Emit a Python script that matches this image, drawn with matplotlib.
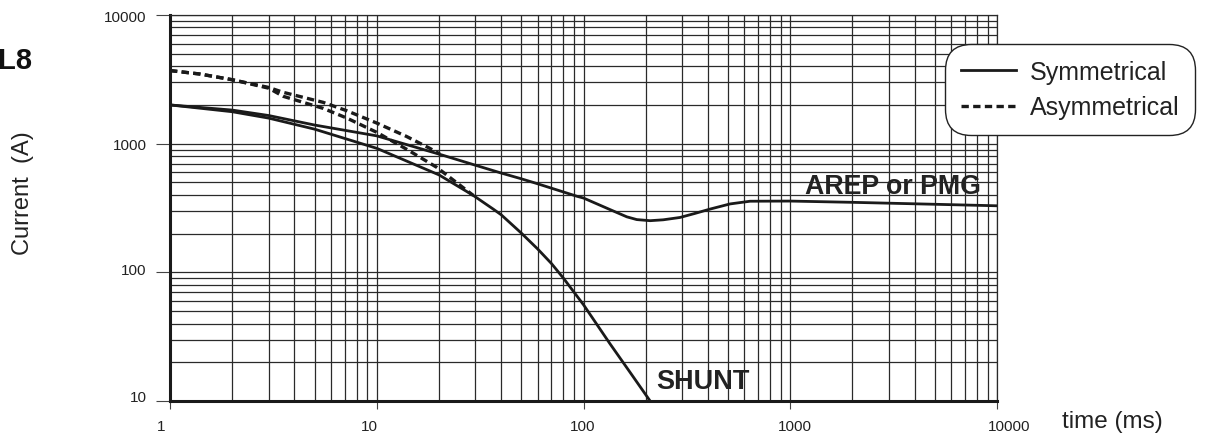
import matplotlib.pyplot as plt
from matplotlib.transforms import ScaledTranslation

plt.rcParams['font.family'] = ['Liberation Sans', 'DejaVu Sans']

# Data (time in ms, current in A)
t_arep = [1, 2, 3, 5, 10, 20, 29.3, 40, 49.3, 59, 93, 100, 134, 162, 181, 210, 243, 293, 346, 409, 511, 639, 1000, 2000, 5000, 10000]
i_arep = [2000, 1824, 1655, 1396, 1150, 830, 688, 591, 537, 492, 390, 378, 308, 270, 257, 252, 256, 267, 287, 310, 340, 357, 358, 350, 338, 329]

t_shunt = [1, 2, 3, 5, 10, 20, 29.3, 36.6, 40, 50, 60, 70, 80, 100, 134, 168, 210]
i_shunt = [2000, 1771, 1580, 1297, 920, 572, 396, 310, 280, 202, 152, 117, 90, 56, 28, 16.7, 10]

t_asym_arep = [1, 1.4, 2, 3, 3.53, 5.51, 7.16, 10, 13.9, 18.1, 20.2]
i_asym_arep = [3700, 3475, 3140, 2735, 2506, 2094, 1803, 1446, 1140, 918, 830]

t_asym_shunt = [1, 1.4, 2, 3, 3.53, 5.51, 7.16, 10, 13.9, 19.5, 29.3]
i_asym_shunt = [3700, 3475, 3140, 2700, 2333, 1880, 1582, 1225, 908, 655, 396]

x_ticks = [1, 10, 100, 1000, 10000]
x_labels = ['1', '10', '100', '1000', '10000']
y_ticks = [10, 100, 1000, 10000]
y_labels = ['10', '100', '1000', '10000']

W, H = 1212, 435
fig = plt.figure(figsize=(W / 100, H / 100), dpi=100)
ax = fig.add_axes([170 / W, 1 - 402 / H, (997 - 170) / W, (402 - 16) / H])

ink = '#1a1a1a'
dash = (0, (2.2, 1.3))
ax.plot(t_arep, i_arep, color=ink, lw=2.0, label='Symmetrical', zorder=3)
ax.plot(t_shunt, i_shunt, color=ink, lw=2.0, zorder=3)
ax.plot(t_asym_arep, i_asym_arep, color=ink, lw=2.4, ls=dash, label='Asymmetrical', zorder=3)
ax.plot(t_asym_shunt, i_asym_shunt, color=ink, lw=2.4, ls=dash, zorder=3)

ax.set_xscale('log')
ax.set_yscale('log')
ax.set_xlim(1, 10000)
ax.set_ylim(10, 10000)

ax.grid(which='both', color='#2a2a2a', lw=0.9)
ax.set_xticks(x_ticks, x_labels)
ax.set_yticks(y_ticks, y_labels)
ax.tick_params(which='minor', length=0)
ax.tick_params(axis='x', which='major', length=5.8, width=0.8, color='#444', pad=7, labelsize=11, labelcolor='#222')
ax.tick_params(axis='y', which='major', length=10, width=0.8, color='#444', pad=7, labelsize=11, labelcolor='#222')

# tick labels in the original are slightly off their ticks
for lab, dx in zip(ax.get_xticklabels(), [-9, -7, -1, 5, 12]):
    lab.set_transform(lab.get_transform() + ScaledTranslation(dx / 100, 0, fig.dpi_scale_trans))
for lab, dy in zip(ax.get_yticklabels(), [5, 4, 0, 0]):
    lab.set_transform(lab.get_transform() + ScaledTranslation(0, dy / 100, fig.dpi_scale_trans))

for s in ['left', 'bottom']:
    ax.spines[s].set_linewidth(2.2)
    ax.spines[s].set_color(ink)
for s in ['top', 'right']:
    ax.spines[s].set_linewidth(0.9)
    ax.spines[s].set_color('#2a2a2a')

ax.text(1178, 469, 'AREP or PMG', fontsize=19.3, fontweight='bold', color='#222', va='center', ha='left')
ax.text(224, 14.3, 'SHUNT', fontsize=19.5, fontweight='bold', color='#222', va='center', ha='left')

fig.text(-2 / W, 1 - 61 / H, 'L8', fontsize=21, fontweight='bold', color='#111', va='center', ha='left')
fig.text(23 / W, 1 - 193 / H, 'Current  (A)', fontsize=17, rotation=90, color='#222', va='center', ha='center')
fig.text(1062 / W, 1 - 422 / H, 'time (ms)', fontsize=17.5, color='#222', va='center', ha='left')

leg = ax.legend(loc='upper left', bbox_to_anchor=(945 / W, 1 - 45 / H), bbox_transform=fig.transFigure,
                borderaxespad=0, fontsize=18, handlelength=2.2, handletextpad=0.55, borderpad=0.64,
                labelspacing=0.45, frameon=True, fancybox=True, framealpha=1, edgecolor='#222')
leg.get_frame().set_boxstyle('round,pad=0,rounding_size=1.05')
leg.get_frame().set_linewidth(1.0)
for t in leg.get_texts():
    t.set_color('#222')

fig.savefig('out.png', dpi=100)
